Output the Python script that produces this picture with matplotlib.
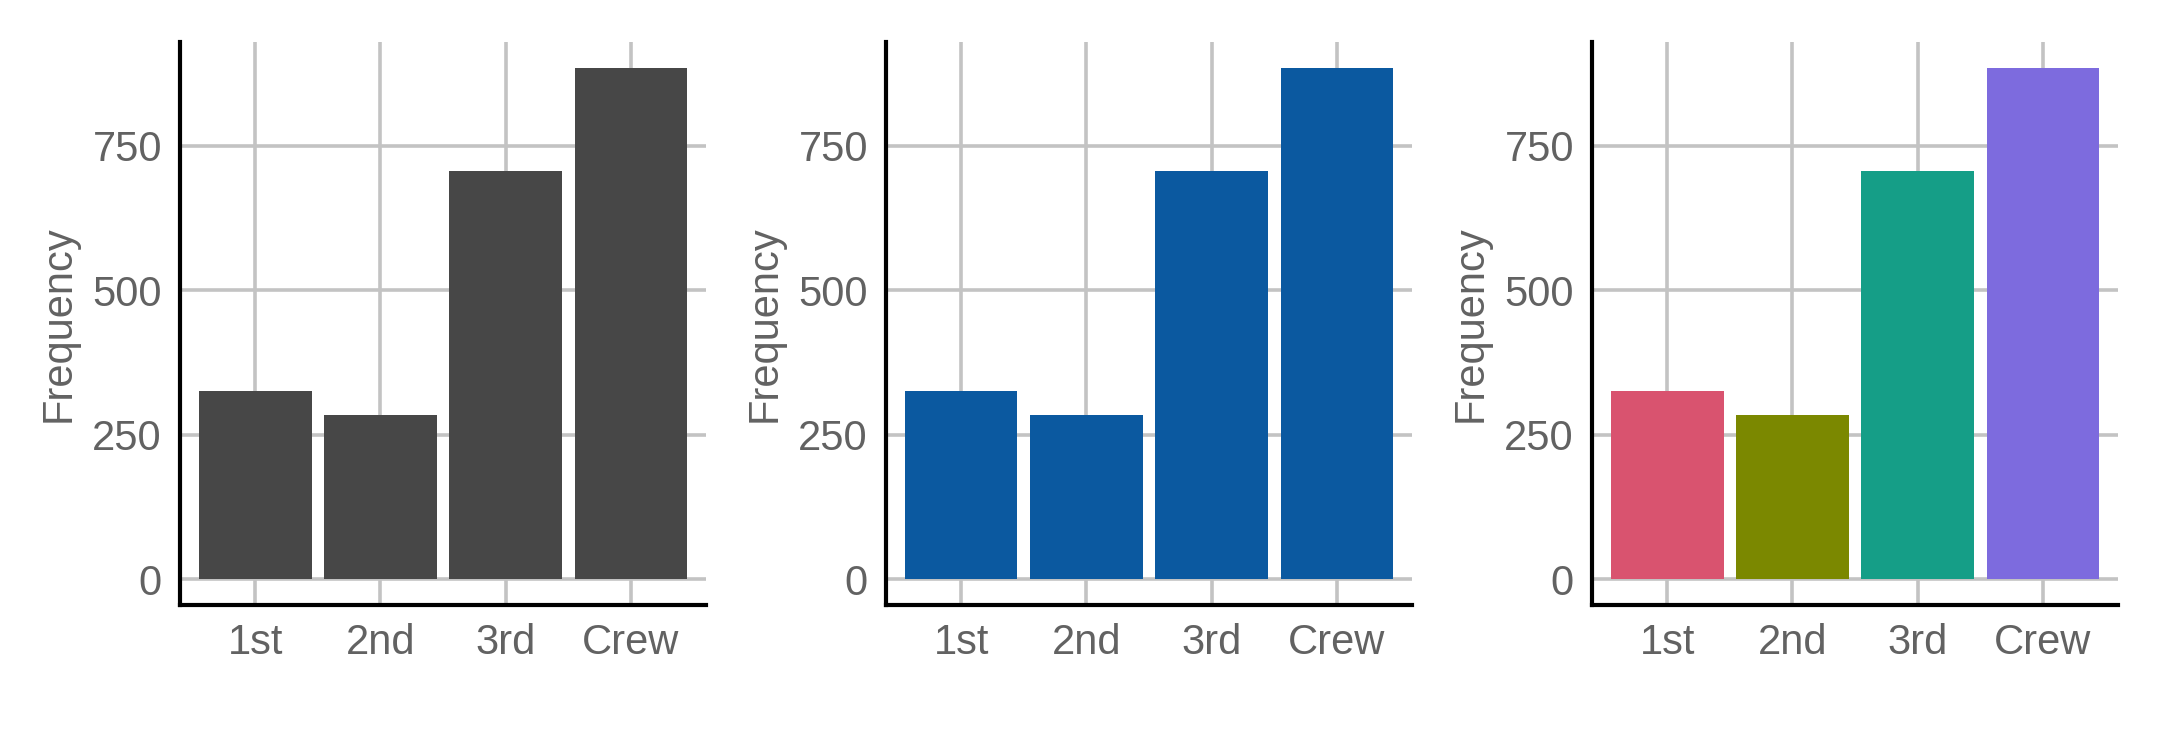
import matplotlib
matplotlib.use("Agg")
import matplotlib.pyplot as plt
import numpy as np

plt.rcParams["font.family"] = ["Liberation Sans", "DejaVu Sans"]

# Titanic passengers by class
CLASSES = ["1st", "2nd", "3rd", "Crew"]
COUNTS = [325, 285, 706, 885]
Y_TICKS = [0, 250, 500, 750]

GREY = "#474747"
BLUE = "#0B59A0"
MULTI = ["#D9536F", "#7B8800", "#159E87", "#7D6BDE"]
PANEL_COLORS = [[GREY] * 4, [BLUE] * 4, MULTI]

TEXT_COL = "#626262"
GRID_COL = "#C3C3C3"

fig = plt.figure(figsize=(10.8, 3.78), dpi=200)

lefts = [180 / 2160, 886 / 2160, 1592 / 2160]
width = 526 / 2160
bottom = 1 - 605 / 756
height = (605 - 42) / 756

x = np.arange(len(CLASSES))
for left, colors in zip(lefts, PANEL_COLORS):
    ax = fig.add_axes([left, bottom, width, height])
    ax.bar(x, COUNTS, width=0.9, color=colors, zorder=2)
    ax.set_xlim(-0.6, 3.6)
    ymax = max(COUNTS)
    ax.set_ylim(-0.05 * ymax, 1.05 * ymax)
    ax.set_xticks(x)
    ax.set_xticklabels(CLASSES)
    ax.set_yticks(Y_TICKS)
    ax.set_yticklabels([str(t) for t in Y_TICKS])
    ax.tick_params(length=0, labelsize=15, colors=TEXT_COL, pad=6.5)
    ax.grid(True, color=GRID_COL, linewidth=1.3, zorder=0)
    ax.set_axisbelow(True)
    for side in ["top", "right"]:
        ax.spines[side].set_visible(False)
    for side in ["left", "bottom"]:
        ax.spines[side].set_linewidth(1.5)
        ax.spines[side].set_color("black")
    ax.set_ylabel("Frequency", fontsize=15, color=TEXT_COL, labelpad=5)

fig.savefig("out.png", dpi=200)
